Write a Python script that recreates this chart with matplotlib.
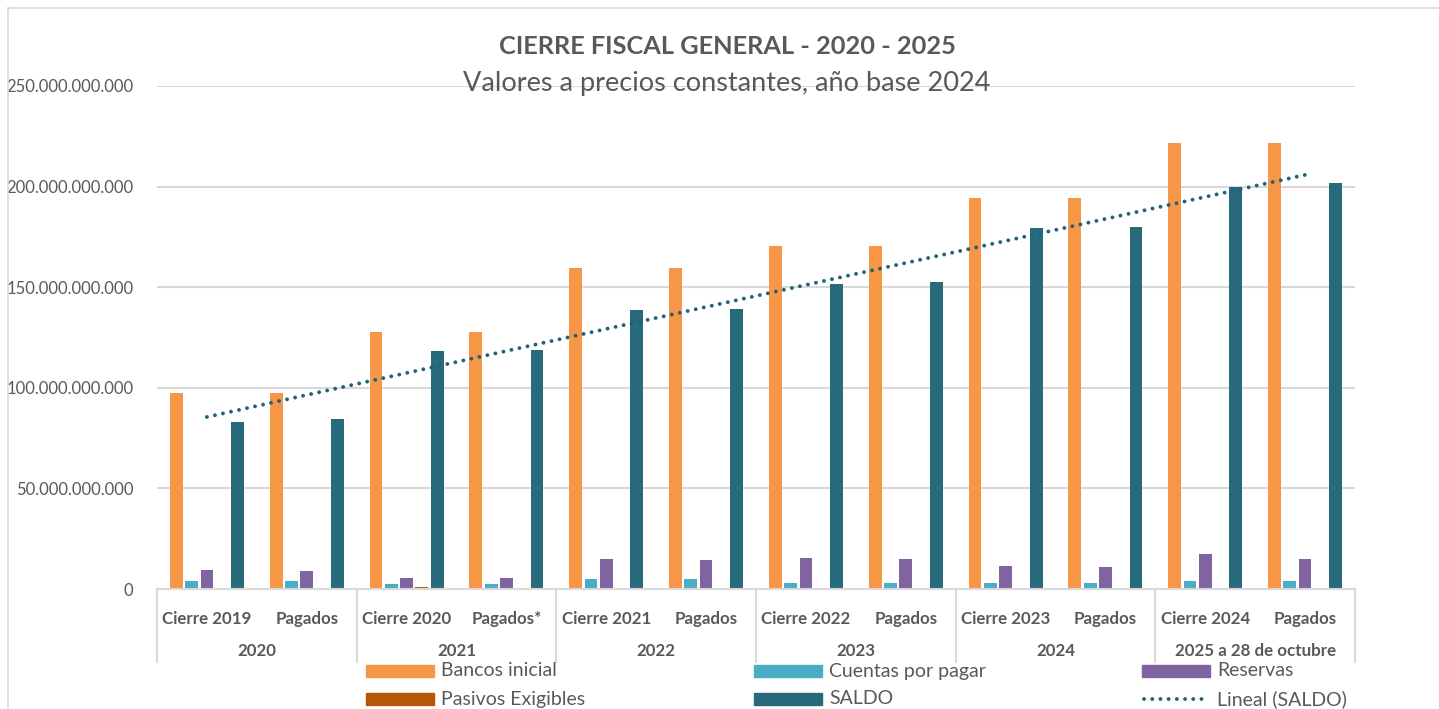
import numpy as np
import matplotlib
matplotlib.use("Agg")
import matplotlib.pyplot as plt
from matplotlib.patches import Rectangle
from matplotlib.lines import Line2D
import matplotlib.ticker as mticker

# ---- data (billions of pesos) ----
categories = ["Cierre 2019", "Pagados", "Cierre 2020", "Pagados*", "Cierre 2021", "Pagados",
              "Cierre 2022", "Pagados", "Cierre 2023", "Pagados", "Cierre 2024", "Pagados"]
years = ["2020", "2021", "2022", "2023", "2024", "2025 a 28 de octubre"]
bancos_inicial = [97.5, 97.5, 127.5, 127.5, 159.5, 159.5, 170.5, 170.5, 194.2, 194.2, 221.5, 221.5]
cuentas_por_pagar = [3.8, 3.8, 2.4, 2.4, 5.2, 5.2, 2.8, 2.8, 2.8, 2.8, 3.8, 3.8]
reservas = [9.5, 8.7, 5.7, 5.5, 14.8, 14.5, 15.6, 15.0, 11.3, 11.1, 17.3, 15.1]
pasivos_exigibles = [0.3, 0.0, 0.8, 0.0, 0.1, 0.0, 0.1, 0.0, 0.2, 0.0, 0.1, 0.0]
saldo = [83.2, 84.5, 118.2, 118.9, 138.9, 139.4, 151.7, 152.4, 179.3, 179.9, 199.6, 201.9]
yticks_vals = [0, 50, 100, 150, 200, 250]

SCALE = 1e9
W, H = 1439, 709
fig = plt.figure(figsize=(W / 100, H / 100), dpi=100)
plt.rcParams['font.family'] = ['Lato', 'DejaVu Sans']

def fx(px):
    return px / W

def fy(py):
    return 1 - py / H

ax_l, ax_r, ax_t, ax_b = 157, 1355, 86, 589
ax = fig.add_axes([fx(ax_l), fy(ax_b), fx(ax_r - ax_l), (ax_b - ax_t) / H])

colors = {
    "Bancos inicial": "#F79646",
    "Cuentas por pagar": "#4BACC6",
    "Reservas": "#8064A2",
    "Pasivos Exigibles": "#B65708",
    "SALDO": "#276A7C",
}
series = [
    ("Bancos inicial", bancos_inicial),
    ("Cuentas por pagar", cuentas_por_pagar),
    ("Reservas", reservas),
    ("Pasivos Exigibles", pasivos_exigibles),
    ("SALDO", saldo),
]
x = np.arange(len(categories))
step = 0.153
bw = 0.128
for k, (name, vals) in enumerate(series):
    ax.bar(x + (k - 2) * step, np.array(vals) * SCALE, width=bw,
           color=colors[name], linewidth=0, zorder=3)

# linear trendline on SALDO
coef = np.polyfit(x + 1, saldo, 1)
tx = np.array([0, len(categories) - 1])
ty = np.polyval(coef, tx + 1)
trend_color = "#1F6474"
dot_style = (0, (0.01, 2.1))
ax.plot(tx, ty * SCALE, color=trend_color, linewidth=2.8,
        linestyle=dot_style, dash_capstyle="round", zorder=4)

ax.set_xlim(-0.5, len(categories) - 0.5)
ax.set_ylim(0, 250 * SCALE)
ax.set_yticks([v * SCALE for v in yticks_vals])
ax.yaxis.set_major_formatter(mticker.FuncFormatter(
    lambda v, p: "0" if v == 0 else f"{int(round(v)):,}".replace(",", ".")))
ax.tick_params(axis="y", length=0, pad=17, labelsize=12, labelcolor="#595959")
ax.grid(axis="y", color="#D9D9D9", linewidth=1.5, zorder=0)
ax.set_axisbelow(True)
for s in ["top", "right", "left"]:
    ax.spines[s].set_visible(False)
ax.spines["bottom"].set_color("#D9D9D9")
ax.spines["bottom"].set_linewidth(1.5)
ax.spines["bottom"].set_zorder(5)

ax.set_xticks(x)
ax.set_xticklabels(categories, fontsize=12.2, fontweight="bold", color="#595959")
ax.tick_params(axis="x", length=0, pad=16)

# year group labels and separators
trans = ax.get_xaxis_transform()
axh = ax_b - ax_t
for g, yr in enumerate(years):
    cx = 2 * g + 0.5
    ax.text(cx, -(651 - ax_b) / axh, yr, transform=trans, ha="center", va="center",
            fontsize=12.2, fontweight="bold", color="#595959")
for b in np.arange(-0.5, len(categories), 2):
    ax.add_line(Line2D([b, b], [0, -(662 - ax_b) / axh], transform=trans,
                       color="#D9D9D9", linewidth=1.5, clip_on=False))

# titles
fig.text(fx(727), fy(47), "CIERRE FISCAL GENERAL - 2020 - 2025", ha="center", va="center",
         fontsize=18.3, fontweight="bold", color="#595959")
fig.text(fx(727), fy(84), "Valores a precios constantes, año base 2024", ha="center", va="center",
         fontsize=19.5, color="#595959")

# outer border (chart area)
fig.add_artist(Line2D([fx(8), fx(8)], [fy(8), 0], transform=fig.transFigure, color="#D9D9D9", linewidth=1.2))
fig.add_artist(Line2D([fx(8), 1], [fy(8), fy(8)], transform=fig.transFigure, color="#D9D9D9", linewidth=1.2))

# legend (manual layout)
leg_items = [
    ("Bancos inicial", "patch", colors["Bancos inicial"]),
    ("Cuentas por pagar", "patch", colors["Cuentas por pagar"]),
    ("Reservas", "patch", colors["Reservas"]),
    ("Pasivos Exigibles", "patch", colors["Pasivos Exigibles"]),
    ("SALDO", "patch", colors["SALDO"]),
    ("Lineal (SALDO)", "line", trend_color),
]
col_x = [366, 754, 1142]
row_y = [671, 699]
for i, (lab, kind, c) in enumerate(leg_items):
    cxp = col_x[i % 3]
    cyp = row_y[i // 3]
    if kind == "patch":
        fig.add_artist(Rectangle((fx(cxp), fy(cyp + 6)), fx(68), 12 / H,
                                 transform=fig.transFigure, color=c))
    else:
        fig.add_artist(Line2D([fx(cxp + 2), fx(cxp + 66)], [fy(cyp), fy(cyp)],
                              transform=fig.transFigure, color=c, linewidth=2.8,
                              linestyle=dot_style, dash_capstyle="round"))
    fig.text(fx(cxp + 75), fy(cyp), lab, ha="left", va="center",
             fontsize=14, color="#595959")

fig.savefig("out.png", dpi=100)
